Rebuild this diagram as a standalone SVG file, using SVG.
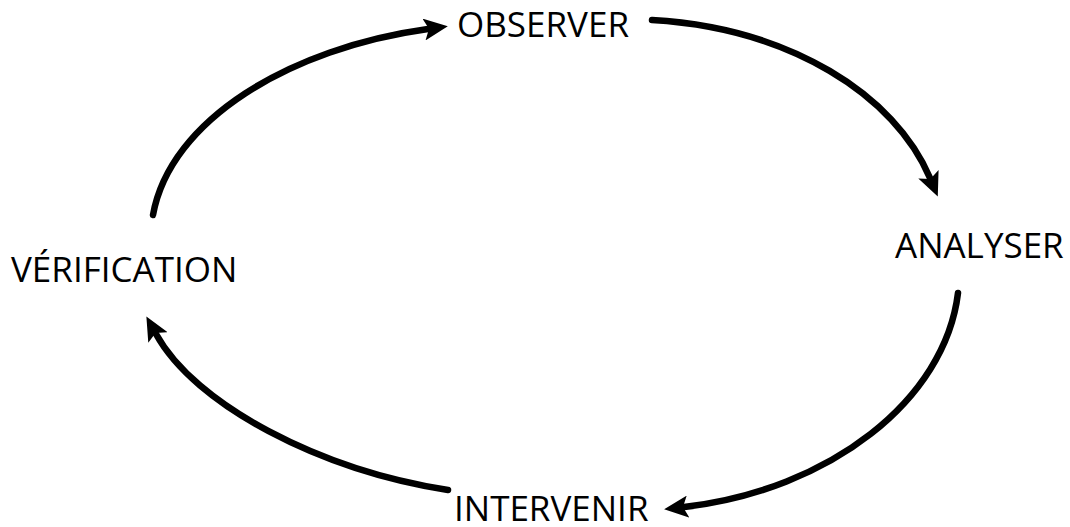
<svg xmlns="http://www.w3.org/2000/svg" width="1070" height="527" viewBox="0 0 1070 527">
<style>
.lbl{font-family:"Open Sans","Noto Sans",sans-serif;font-size:35px;fill:#000}
.arc{fill:none;stroke:#000;stroke-width:6.5;stroke-linecap:round;marker-end:url(#ah)}
</style>
<defs>
<marker id="ah" markerUnits="userSpaceOnUse" markerWidth="26" markerHeight="22" refX="4" refY="11" orient="auto" viewBox="0 0 26 22">
<path d="M0,0 L24,11 L0,22 L5,11 Z" fill="#000"/>
</marker>
</defs>
<rect width="1070" height="527" fill="#fff"/>
<g id="connectors">
<path class="arc" d="M153,215 C170,120 290,48 428,29"/>
<path class="arc" d="M652,20 C790,28 895,95 930,178"/>
<path class="arc" d="M958,293 C945,400 830,490 684,507"/>
<path class="arc" d="M448,490 C320,470 195,405 156,334"/>
</g>
<g id="observer"><text class="lbl" x="457" y="37">OBSERVER</text></g>
<g id="analyser"><text class="lbl" x="895" y="258">ANALYSER</text></g>
<g id="verification"><text class="lbl" x="11" y="282">VÉRIFICATION</text></g>
<g id="intervenir"><text class="lbl" x="454" y="521">INTERVENIR</text></g>
</svg>
